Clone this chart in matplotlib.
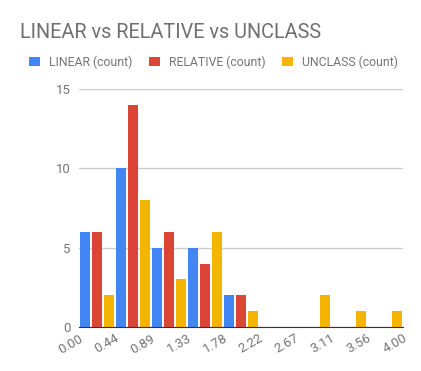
import numpy as np
import matplotlib.pyplot as plt
import matplotlib.transforms as mtransforms

# histogram counts, 9 bins from 0 to 4
bin_edges = np.linspace(0, 4, 10)
tick_labels = ["0.00", "0.44", "0.89", "1.33", "1.78", "2.22", "2.67", "3.11", "3.56", "4.00"]
linear = [6, 10, 5, 5, 2, 0, 0, 0, 0]
relative = [6, 14, 6, 4, 2, 0, 0, 0, 0]
unclass = [2, 8, 3, 6, 1, 0, 2, 1, 1]

series = [
    ("LINEAR (count)", linear, "#4285F4"),
    ("RELATIVE (count)", relative, "#DB4437"),
    ("UNCLASS (count)", unclass, "#F4B400"),
]

plt.rcParams['font.family'] = ['Roboto', 'DejaVu Sans']

fig = plt.figure(figsize=(4.21, 3.71), dpi=100)
ax = fig.add_axes([79 / 421, 44 / 371, 324 / 421, 238 / 371])

bw = bin_edges[1] - bin_edges[0]
sub = bw / 3
for i, (name, vals, col) in enumerate(series):
    x = bin_edges[:-1] + sub * i + sub / 2
    ax.bar(x, vals, width=sub * 0.9, color=col, label=name, zorder=3)

ax.set_xlim(0, 4)
ax.set_ylim(0, 15)
ax.set_yticks([0, 5, 10, 15])
ax.grid(axis='y', color='#cccccc', linewidth=1, zorder=0)
ax.set_xticks(bin_edges)
ax.set_xticklabels(tick_labels, rotation=30, ha='right', rotation_mode='anchor',
                   fontsize=9.5, color='#757575')
offset = mtransforms.ScaledTranslation(7 / 100, -5 / 100, fig.dpi_scale_trans)
for lab in ax.get_xticklabels():
    lab.set_transform(lab.get_transform() + offset)
ax.tick_params(axis='both', length=0, labelsize=9.5, labelcolor='#757575')
ax.tick_params(axis='y', pad=6)

for s in ['top', 'right', 'left']:
    ax.spines[s].set_visible(False)
ax.spines['bottom'].set_color('#333333')
ax.spines['bottom'].set_zorder(4)

fig.text(20 / 421, 1 - 33 / 371, "LINEAR vs RELATIVE vs UNCLASS", fontsize=14.3,
         color='#6f6f6f', va='center', ha='left')

leg = fig.legend(loc='center left', bbox_to_anchor=(29 / 421, 1 - 62 / 371), ncol=3,
                 frameon=False, fontsize=8.8, handlelength=0.87, handleheight=0.87,
                 handletextpad=0.73, columnspacing=1.4, borderaxespad=0, borderpad=0)
for t in leg.get_texts():
    t.set_color('#757575')

fig.savefig('out.png', dpi=100)
